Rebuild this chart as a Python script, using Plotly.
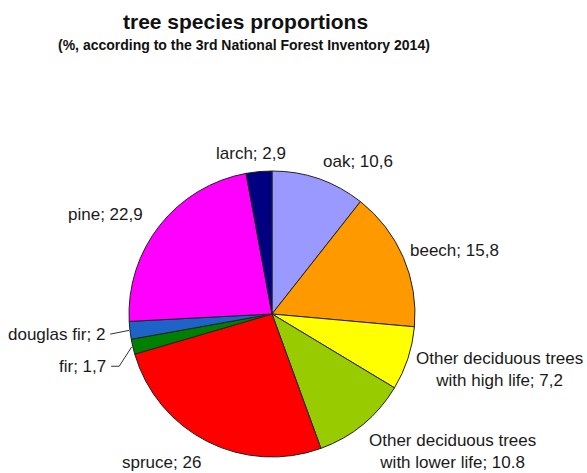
import math
import plotly.graph_objects as go

# ---- data ----
species = ["oak", "beech", "Other deciduous trees with high life",
           "Other deciduous trees with lower life", "spruce", "fir",
           "douglas fir", "pine", "larch"]
shares = [10.6, 15.8, 7.2, 10.8, 26, 1.7, 2, 22.9, 2.9]
label_texts = ["oak; 10,6", "beech; 15,8",
               "Other deciduous trees<br>with high life; 7,2",
               "Other deciduous trees<br>with lower life; 10.8",
               "spruce; 26", "fir; 1,7", "douglas fir; 2", "pine; 22,9", "larch; 2,9"]

# ---- style ----
colors = ["#9999FF", "#FF9900", "#FFFF00", "#99CC00", "#FF0000",
          "#008000", "#1E64C8", "#FF00FF", "#000080"]
W, H = 587, 473
CX, CY, R = 272, 314, 143
label_r = [1.1, 1.1, 1.1, 1.1, 1.1, 1.22, 1.16, 1.1, 1.1]
label_nudge = [(-2, 0), (-8, 0), (-8, 0), (-5, 1), (2, -1), (6, 10), (0, 0), (-4, 0), (-7, 0)]
leader = [None, None, None, None, None, "bent", "straight", None, None]
FONT = "Liberation Sans, Arial, sans-serif"
LABEL_SIZE = 17

fig = go.Figure(go.Pie(
    labels=species, values=shares, sort=False, direction="clockwise", rotation=0,
    marker=dict(colors=colors, line=dict(color="#222222", width=1)),
    textinfo="none", hoverinfo="label+value", showlegend=False,
    domain=dict(x=[(CX - R) / W, (CX + R) / W], y=[1 - (CY + R) / H, 1 - (CY - R) / H]),
))

def px2paper(x, y):
    return x / W, 1 - y / H

total = sum(shares)
cum = 0.0
annotations, shapes = [], []
for i, v in enumerate(shares):
    mid = (cum + v / 2) / total * 2 * math.pi
    cum += v
    s, c = math.sin(mid), math.cos(mid)
    lx = CX + R * label_r[i] * s + label_nudge[i][0]
    ly = CY - R * label_r[i] * c + label_nudge[i][1]
    nlines = label_texts[i].count("<br>") + 1
    h = 20 * nlines
    if c < 0:
        ly += -c * h / 2
    else:
        ly -= c * h * 0.2
    if s > 0.15:
        xa = "left"
    elif s < -0.15:
        xa = "right"
    else:
        xa = "center"
    px_, py_ = px2paper(lx, ly)
    annotations.append(dict(x=px_, y=py_, xref="paper", yref="paper", text=label_texts[i],
                            showarrow=False, xanchor=xa, yanchor="middle", align="center",
                            font=dict(family=FONT, size=LABEL_SIZE, color="#1a1a1a")))
    if leader[i]:
        ex, ey = CX + R * s, CY - R * c
        x0, y0 = px2paper(lx + 3, ly)
        x1, y1 = px2paper(ex - 1, ey)
        if leader[i] == "bent":
            xm, ym = px2paper(lx + 11, ly)
            path = f"M {x0},{y0} L {xm},{ym} L {x1},{y1}"
        else:
            path = f"M {x0},{y0} L {x1},{y1}"
        shapes.append(dict(type="path", xref="paper", yref="paper", path=path,
                           line=dict(color="#333333", width=1)))

annotations.append(dict(x=245 / W, y=1 - 22 / H, xref="paper", yref="paper",
                        text="<b>tree species proportions</b>", showarrow=False,
                        xanchor="center", yanchor="middle",
                        font=dict(family=FONT, size=21, color="#111111")))
annotations.append(dict(x=244 / W, y=1 - 45 / H, xref="paper", yref="paper",
                        text="<b>(%, according to the 3rd National Forest Inventory 2014)</b>",
                        showarrow=False, xanchor="center", yanchor="middle",
                        font=dict(family=FONT, size=14, color="#111111")))

fig.update_layout(width=W, height=H, margin=dict(l=0, r=0, t=0, b=0),
                  paper_bgcolor="white", plot_bgcolor="white",
                  annotations=annotations, shapes=shapes)
fig.write_html("out.html", config={"displayModeBar": False},
               post_script="document.body.style.margin='0';")
